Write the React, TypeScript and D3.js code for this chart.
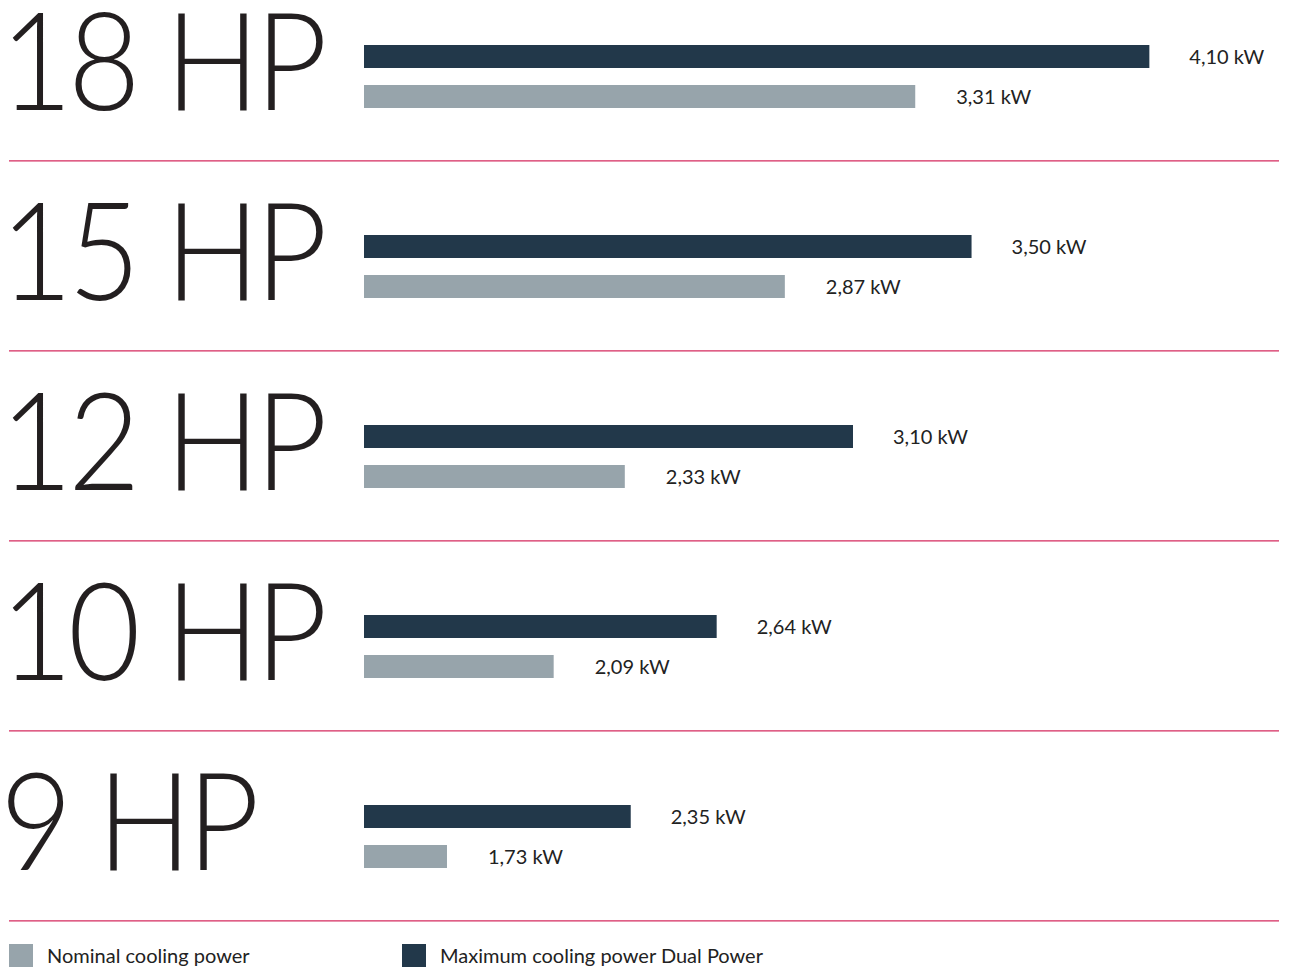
import { useEffect, useRef } from "react";
import * as d3 from "d3";

// chart data
const categories = ["18 HP", "15 HP", "12 HP", "10 HP", "9 HP"];
const maxCooling = [4.1, 3.5, 3.1, 2.64, 2.35];
const nominalCooling = [3.31, 2.87, 2.33, 2.09, 1.73];
const legendLabels = ["Nominal cooling power", "Maximum cooling power Dual Power"];

const DARK = "#22384a";
const LIGHT = "#97a4ab";
const RULE = "#d42a5e";

const fmt = (v: number) => d3.format(".2f")(v).replace(".", ",") + " kW";

function App() {
  const ref = useRef<SVGSVGElement>(null);

  useEffect(() => {
    const width = 1293;
    const height = 969;
    const svg = d3.select(ref.current);
    svg.selectAll("*").remove();

    // rows
    const y = d3.scaleBand().domain(categories).range([-30, 920]).padding(0);
    // bar length scale
    const x = d3.scaleLinear().domain([1.45, 4.2]).range([364, 1179]);

    const rows = svg
      .selectAll("g.row")
      .data(categories)
      .enter()
      .append("g")
      .attr("class", "row")
      .attr("transform", (d) => `translate(0,${y(d)})`);

    // big model label, slightly condensed
    rows
      .append("g")
      .attr("transform", "translate(0,140) scale(0.92,1)")
      .append("text")
      .attr("x", 0)
      .attr("y", 0)
      .attr("font-family", "Lato, 'Noto Sans', sans-serif")
      .attr("font-weight", 300)
      .attr("font-size", 136)
      .attr("letter-spacing", -5)
      .attr("fill", "#231f20")
      .text((d) => d);

    rows
      .append("rect")
      .attr("x", x(1.45))
      .attr("y", 75)
      .attr("height", 23)
      .attr("width", (_d, i) => x(maxCooling[i]) - x(1.45))
      .attr("fill", DARK);

    rows
      .append("rect")
      .attr("x", x(1.45))
      .attr("y", 115)
      .attr("height", 23)
      .attr("width", (_d, i) => x(nominalCooling[i]) - x(1.45))
      .attr("fill", LIGHT);

    rows
      .append("text")
      .attr("x", (_d, i) => x(maxCooling[i]) + 40)
      .attr("y", 86.5)
      .attr("dy", "0.35em")
      .attr("font-family", "Lato, sans-serif")
      .attr("font-size", 20)
      .attr("fill", "#222")
      .text((_d, i) => fmt(maxCooling[i]));

    rows
      .append("text")
      .attr("x", (_d, i) => x(nominalCooling[i]) + 41)
      .attr("y", 126.5)
      .attr("dy", "0.35em")
      .attr("font-family", "Lato, sans-serif")
      .attr("font-size", 20)
      .attr("fill", "#222")
      .text((_d, i) => fmt(nominalCooling[i]));

    rows
      .append("line")
      .attr("x1", 9)
      .attr("x2", 1279)
      .attr("y1", y.bandwidth() + 0.8)
      .attr("y2", y.bandwidth() + 0.8)
      .attr("stroke", RULE)
      .attr("stroke-width", 1.3);

    // legend
    const legend = svg
      .selectAll("g.legend")
      .data(legendLabels)
      .enter()
      .append("g")
      .attr("class", "legend")
      .attr("transform", (_d, i) => `translate(${i === 0 ? 9 : 402},944)`);

    legend
      .append("rect")
      .attr("width", 24)
      .attr("height", 23)
      .attr("fill", (_d, i) => (i === 0 ? LIGHT : DARK));

    legend
      .append("text")
      .attr("x", 38)
      .attr("y", 11.5)
      .attr("dy", "0.35em")
      .attr("font-family", "Lato, sans-serif")
      .attr("font-size", 20)
      .attr("fill", "#222")
      .text((d) => d);

    svg.attr("width", width).attr("height", height);
  }, []);

  return (
    <div style={{ position: "absolute", left: 0, top: 0 }}>
      <svg ref={ref} style={{ display: "block" }} />
    </div>
  );
}

export default App;
